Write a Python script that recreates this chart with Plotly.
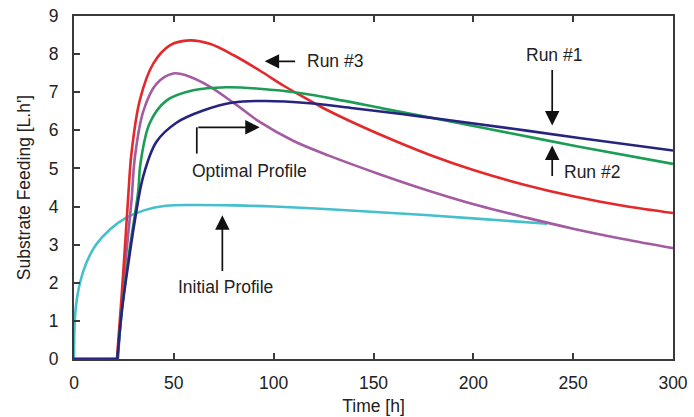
import plotly.graph_objects as go

# ---- data ----
t_run1 = [0, 21.7, 23.8, 27.2, 30.5, 34.7, 41.3, 51.3, 64.7, 79.7, 96, 118, 140, 165, 190, 220, 253, 300]
y_run1 = [0, 0, 1.19, 2.5, 3.64, 4.8, 5.7, 6.2, 6.52, 6.73, 6.77, 6.71, 6.58, 6.42, 6.25, 6.04, 5.80, 5.47]

t_run2 = [0, 21.7, 24.7, 28, 32.2, 33.2, 38, 46.3, 59.7, 76.3, 93, 113, 134.7, 155, 186, 220, 253, 300]
y_run2 = [0, 0, 1.62, 2.93, 4.42, 5.1, 6.2, 6.78, 7.05, 7.13, 7.09, 6.98, 6.78, 6.57, 6.26, 5.91, 5.57, 5.12]

t_run3 = [0, 21.5, 23.8, 25.5, 27.2, 28.8, 33, 39.7, 48, 58, 68, 80, 93, 105, 115, 125, 140, 160, 180, 200, 225, 250, 275, 300]
y_run3 = [0, 0, 1.62, 2.93, 4.3, 5.4, 6.8, 7.75, 8.23, 8.36, 8.27, 7.97, 7.57, 7.17, 6.87, 6.58, 6.2, 5.74, 5.32, 4.96, 4.58, 4.27, 4.02, 3.83]

t_opt = [0, 22, 24.2, 26.5, 28.8, 30.5, 34.7, 41.3, 49.7, 56.3, 68, 81, 93, 110, 128, 153, 178, 203, 228, 250, 275, 300]
y_opt = [0, 0, 1.62, 2.93, 4.16, 5.3, 6.5, 7.22, 7.49, 7.44, 7.15, 6.68, 6.22, 5.72, 5.33, 4.85, 4.41, 4.02, 3.69, 3.42, 3.15, 2.91]

t_init = [0, 0.3, 1, 3, 6, 11, 18, 26, 35, 46, 60, 80, 100, 128, 153, 178, 205, 237]
y_init = [0, 0.9, 1.4, 2.0, 2.5, 3.0, 3.4, 3.7, 3.9, 4.02, 4.04, 4.03, 4.0, 3.93, 3.85, 3.77, 3.67, 3.55]

x_ticks = [0, 50, 100, 150, 200, 250, 300]
y_ticks = [0, 1, 2, 3, 4, 5, 6, 7, 8, 9]

C_RUN1 = "#272480"
C_RUN2 = "#1c9c55"
C_RUN3 = "#e3292b"
C_OPT = "#a35ba1"
C_INIT = "#45bfcc"
LW = 2.6
SM = 1.0

fig = go.Figure()

fig.add_trace(go.Scatter(x=t_init, y=y_init, mode="lines", name="Initial Profile",
                         line=dict(color=C_INIT, width=LW, shape="spline", smoothing=SM),
                         cliponaxis=False))

for t, y, c, n in [(t_opt, y_opt, C_OPT, "Optimal Profile"),
                   (t_run3, y_run3, C_RUN3, "Run #3"),
                   (t_run2, y_run2, C_RUN2, "Run #2"),
                   (t_run1, y_run1, C_RUN1, "Run #1")]:
    # lag phase (flat) drawn straight, the rest smoothed
    fig.add_trace(go.Scatter(x=t[:2], y=y[:2], mode="lines", name=n, showlegend=False,
                             line=dict(color=c, width=LW), cliponaxis=False))
    fig.add_trace(go.Scatter(x=t[1:], y=y[1:], mode="lines", name=n,
                             line=dict(color=c, width=LW, shape="spline", smoothing=SM),
                             cliponaxis=False))

FONT = dict(family="Liberation Sans, Arial, sans-serif", size=17.5, color="#222222")
AX = "#3a3a3a"


def arrow(x, y, ax, ay):
    fig.add_annotation(x=x, y=y, ax=ax, ay=ay, xref="x", yref="y", axref="x", ayref="y",
                       text="", showarrow=True, arrowhead=2, arrowsize=1.7, arrowwidth=1.7,
                       arrowcolor="#111111", standoff=0, startstandoff=0)


def label(x, y, s, xanchor="center"):
    fig.add_annotation(x=x, y=y, xref="x", yref="y", text=s, showarrow=False,
                       font=FONT, xanchor=xanchor, yanchor="middle")


# Run #3
arrow(95.5, 7.81, 111.5, 7.81)
label(115.5, 7.81, "Run #3", "left")
# Optimal profile (elbow arrow)
fig.add_shape(type="line", x0=61.5, y0=5.39, x1=61.5, y1=6.08, xref="x", yref="y",
              line=dict(color="#111111", width=1.7))
arrow(93, 6.08, 61.5, 6.08)
label(88, 4.94, "Optimal Profile")
# Run #1
arrow(239.5, 6.13, 239.5, 7.62)
label(240.5, 7.97, "Run #1")
# Run #2
arrow(239.5, 5.6, 239.5, 4.76)
label(244.5, 4.9, "Run #2", "left")
# Initial profile
arrow(74.3, 3.77, 74.3, 2.27)
label(76, 1.9, "Initial Profile")

fig.update_layout(
    width=694, height=417,
    margin=dict(l=74, r=21, t=16, b=58, autoexpand=False),
    paper_bgcolor="white", plot_bgcolor="white",
    showlegend=False,
    font=FONT,
)
fig.update_xaxes(range=[0, 300], tickvals=x_ticks, ticktext=[str(v) for v in x_ticks],
                 automargin=False,
                 showgrid=False, zeroline=False, showline=True, linecolor=AX, linewidth=2,
                 mirror="ticks", ticks="inside", ticklen=6, tickwidth=1.5, tickcolor=AX,
                 ticklabelstandoff=7,
                 title=dict(text="Time [h]", font=FONT, standoff=8))
fig.update_yaxes(range=[0, 9], tickvals=y_ticks, ticktext=[str(v) for v in y_ticks],
                 automargin=False,
                 showgrid=False, zeroline=False, showline=True, linecolor=AX, linewidth=2,
                 mirror=True, ticks="inside", ticklen=6, tickwidth=1.5, tickcolor=AX,
                 ticklabelstandoff=10,
                 title=dict(text="Substrate Feeding [L.h']", font=FONT, standoff=14))

fig.write_html("out.html")
